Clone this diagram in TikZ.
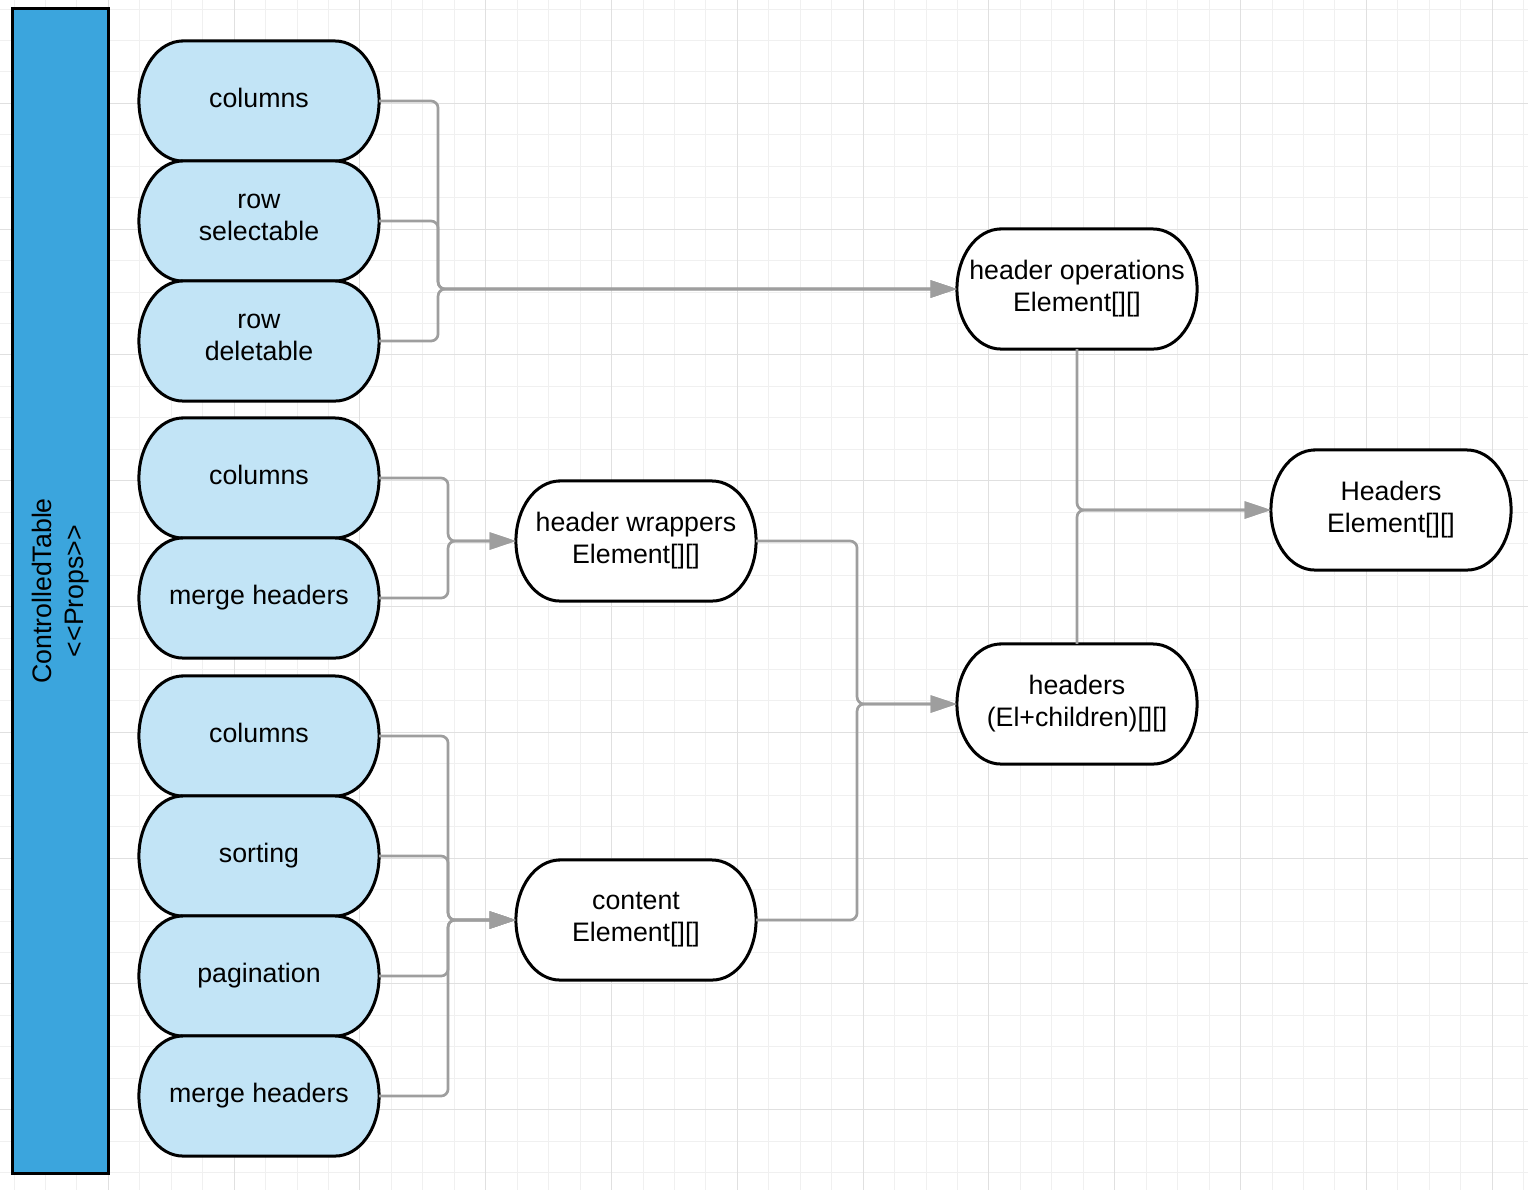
\documentclass[tikz,border=0pt]{standalone}
\usepackage{fontspec}
\setmainfont{Liberation Sans}
\usetikzlibrary{arrows.meta}
\definecolor{barblue}{RGB}{59,165,221}
\definecolor{propblue}{RGB}{194,228,246}
\definecolor{linkgray}{RGB}{158,158,158}
\definecolor{gridlt}{RGB}{240,240,240}
\definecolor{griddk}{RGB}{224,224,224}

% stadium box: straight top/bottom, half ellipses at the ends
\makeatletter
\pgfdeclareshape{pill}{%
  \inheritsavedanchors[from=rectangle]%
  \inheritanchorborder[from=rectangle]%
  \inheritanchor[from=rectangle]{center}%
  \inheritanchor[from=rectangle]{north}%
  \inheritanchor[from=rectangle]{south}%
  \inheritanchor[from=rectangle]{east}%
  \inheritanchor[from=rectangle]{west}%
  \inheritanchor[from=rectangle]{north east}%
  \inheritanchor[from=rectangle]{north west}%
  \inheritanchor[from=rectangle]{south east}%
  \inheritanchor[from=rectangle]{south west}%
  \inheritanchor[from=rectangle]{text}%
  \backgroundpath{%
    \southwest \pgf@xa=\pgf@x \pgf@ya=\pgf@y
    \northeast \pgf@xb=\pgf@x \pgf@yb=\pgf@y
    \pgf@yc=.5\pgf@yb \advance\pgf@yc by -.5\pgf@ya
    \pgf@xc=.733\pgf@yc
    \edef\pill@rx{\the\pgf@xc}\edef\pill@ry{\the\pgf@yc}%
    \edef\pill@l{\the\dimexpr\pgf@xa+\pgf@xc\relax}%
    \edef\pill@r{\the\dimexpr\pgf@xb-\pgf@xc\relax}%
    \edef\pill@t{\the\pgf@yb}\edef\pill@b{\the\pgf@ya}%
    \pgfpathmoveto{\pgfqpoint{\pill@l}{\pill@t}}%
    \pgfpathlineto{\pgfqpoint{\pill@r}{\pill@t}}%
    \pgfpatharc{90}{-90}{\pill@rx and \pill@ry}%
    \pgfpathlineto{\pgfqpoint{\pill@l}{\pill@b}}%
    \pgfpatharc{270}{90}{\pill@rx and \pill@ry}%
    \pgfpathclose
  }%
}
\makeatother

\begin{document}
\begin{tikzpicture}[x=0.01cm,y=-0.01cm,>={Triangle[length=7.5pt,width=4.8pt]},
    font=\fontsize{7.6}{9.1}\selectfont,every node/.style={align=center},
    pillbox/.style={shape=pill,draw,line width=0.03cm,minimum width=2.4cm,minimum height=1.2cm,inner sep=0pt,outer sep=0pt},
    propnode/.style={pillbox,fill=propblue,text depth=0.07cm},
    outnode/.style={pillbox,fill=white},
    link/.style={->,draw=linkgray,line width=0.027cm,rounded corners=2pt},
    gridline/.style={draw=gridlt,line width=0.01cm},
    gridmajor/.style={draw=griddk,line width=0.01cm}]
    \useasboundingbox (0,0) rectangle (1528,1190);
    % paper grid
    \foreach \k in {0,...,48} \draw[gridline] ({14+31.45*\k},0) -- ++(0,1190);
    \foreach \k in {0,...,37} \draw[gridline] (0,{9+31.45*\k}) -- ++(1528,0);
    \foreach \k in {0,...,11} \draw[gridmajor] ({108.35+125.8*\k},0) -- ++(0,1190);
    \foreach \k in {0,...,8} \draw[gridmajor] (0,{103.35+125.8*\k}) -- ++(1528,0);

    \node[draw,line width=0.03cm,fill=barblue,rotate=90,minimum width=11.64cm,minimum height=0.95cm,inner sep=0pt,outer sep=0pt] (bar) at (60.5,591) {ControlledTable\\<\kern0pt<Props>\kern0pt>};

    \node[propnode] (cols1) at (259,101) {columns};
    \node[propnode] (rowsel) at (259,221) {row\\selectable};
    \node[propnode] (rowdel) at (259,341) {row\\deletable};
    \node[propnode] (cols2) at (259,478) {columns};
    \node[propnode] (merge1) at (259,598) {merge headers};
    \node[propnode] (cols3) at (259,736) {columns};
    \node[propnode] (sorting) at (259,856) {sorting};
    \node[propnode] (paging) at (259,976) {pagination};
    \node[propnode] (merge2) at (259,1096) {merge headers};

    \node[outnode] (hops) at (1077,289) {header operations\\Element[][]};
    \node[outnode] (hwrap) at (636,541) {header wrappers\\Element[][]};
    \node[outnode] (content) at (636,920) {content\\Element[][]};
    \node[outnode] (hdrs) at (1077,704) {headers\\(El+children)[][]};
    \node[outnode] (result) at (1391,510) {Headers\\Element[][]};

    \foreach \n in {cols1,rowsel,rowdel} \draw[link] (\n.east) -- ++(59,0) |- (hops.west);
    \foreach \n in {cols2,merge1} \draw[link] (\n.east) -- ++(69,0) |- (hwrap.west);
    \foreach \n in {cols3,sorting,paging,merge2} \draw[link] (\n.east) -- ++(69,0) |- (content.west);
    \foreach \n in {hwrap,content} \draw[link] (\n.east) -- ++(101,0) |- (hdrs.west);
    \draw[link] (hops.south) |- (result.west);
    \draw[link] (hdrs.north) |- (result.west);
\end{tikzpicture}
\end{document}
